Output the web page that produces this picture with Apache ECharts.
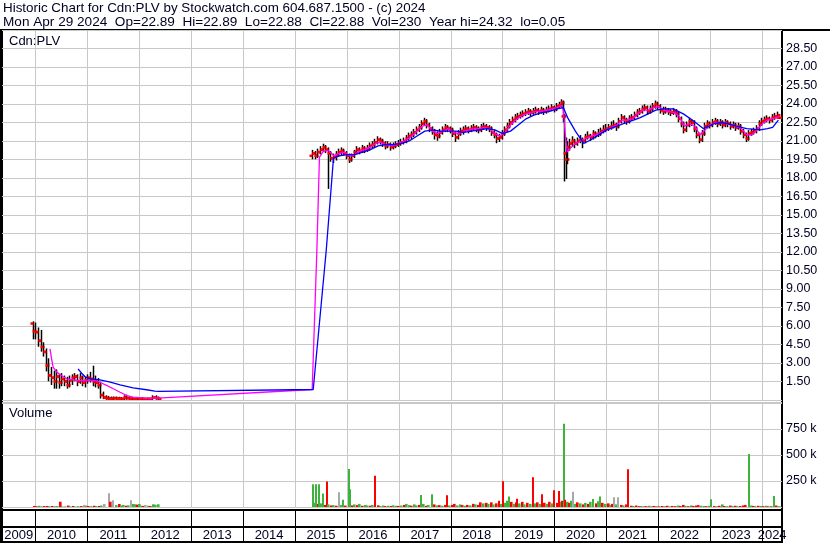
<!DOCTYPE html>
<html><head><meta charset="utf-8">
<script src="https://cdn.jsdelivr.net/npm/echarts@6/dist/echarts.min.js"></script>
<style>html,body{margin:0;padding:0;background:#fff}#c{width:830px;height:543px}</style>
</head><body><div id="c"></div>
<script>
// ---------- DATA ----------
const headerLine1 = 'Historic Chart for Cdn:PLV by Stockwatch.com 604.687.1500 - (c) 2024';
const headerLine2 = 'Mon Apr 29 2024  Op=22.89  Hi=22.89  Lo=22.88  Cl=22.88  Vol=230  Year hi=24.32  lo=0.05';
const symbolLabel = 'Cdn:PLV';
const volumeLabel = 'Volume';
const yearBounds = [2010,2011,2012,2013,2014,2015,2016,2017,2018,2019,2020,2021,2022,2023,2024];
const yearLabels = [2009,2010,2011,2012,2013,2014,2015,2016,2017,2018,2019,2020,2021,2022,2023,2024];
const priceTicks = [1.5,3,4.5,6,7.5,9,10.5,12,13.5,15,16.5,18,19.5,21,22.5,24,25.5,27,28.5];
const volumeTicks = [250,500,750];

// [decimal year, open, high, low, close]
const ohlc2010 = [
[2009.95,6.2,6.3,5.0,5.6],[2010.00,5.6,6.2,5.0,5.5],[2010.05,5.5,5.8,4.4,4.8],[2010.10,4.8,5.6,4.0,4.3],
[2010.15,4.3,4.6,3.6,3.9],[2010.20,3.9,4.1,2.4,2.8],[2010.25,2.8,3.3,1.6,2.0],[2010.30,2.0,2.6,1.3,1.8],
[2010.35,1.8,2.3,1.0,1.5],[2010.40,1.5,2.4,1.0,1.9],[2010.45,1.9,2.0,1.0,1.4],[2010.50,1.4,2.1,1.2,1.7],
[2010.55,1.7,1.9,1.2,1.5],[2010.60,1.5,1.8,1.0,1.2],[2010.65,1.2,1.9,1.1,1.6],[2010.70,1.6,2.0,1.3,1.8],
[2010.75,1.8,2.1,1.6,1.9],[2010.80,1.9,2.0,1.2,1.5],[2010.85,1.5,2.1,1.4,1.8],[2010.90,1.8,1.9,1.2,1.4],
[2010.95,1.4,1.8,1.1,1.6]];
const ohlc2011 = [
[2011.00,1.6,2.0,1.4,1.8],[2011.05,1.8,2.2,1.5,1.7],[2011.10,1.7,2.7,1.2,1.5],[2011.15,1.5,1.9,1.1,1.4],
[2011.20,1.4,1.7,1.0,1.2],[2011.25,1.2,1.4,0.2,0.4],[2011.30,0.4,0.6,0.15,0.2],[2011.35,0.2,0.3,0.1,0.15],
[2011.40,0.15,0.25,0.1,0.12],[2011.45,0.12,0.2,0.08,0.1],[2011.50,0.1,0.2,0.08,0.15],[2011.55,0.15,0.2,0.1,0.12],
[2011.60,0.12,0.18,0.08,0.1],[2011.65,0.1,0.15,0.06,0.08],[2011.70,0.08,0.3,0.06,0.2],[2011.75,0.2,0.35,0.1,0.15],
[2011.80,0.15,0.2,0.08,0.1],[2011.85,0.1,0.15,0.06,0.08],[2011.95,0.08,0.12,0.05,0.1]];
const ohlc2012 = [
[2012.05,0.1,0.15,0.06,0.08],[2012.15,0.08,0.12,0.05,0.1],[2012.25,0.1,0.3,0.08,0.2],[2012.32,0.2,0.3,0.1,0.15],
[2012.36,0.15,0.2,0.05,0.1]];
const ohlc2015 = [
[2015.33,19.8,20.2,19.6,20.0],[2015.38,20.0,20.1,19.6,19.8],[2015.43,19.8,20.3,19.7,20.1],[2015.48,20.1,20.5,20.0,20.3],
[2015.53,20.3,20.7,20.2,20.5],[2015.58,20.5,20.6,20.1,20.3],[2015.63,20.3,20.4,17.2,20.0],[2015.68,20.0,20.1,19.4,19.6],
[2015.73,19.6,19.9,19.3,19.7],[2015.78,19.7,20.1,19.5,19.9],[2015.83,19.9,20.3,19.8,20.1],[2015.88,20.1,20.4,19.9,20.2],
[2015.93,20.2,20.3,19.9,20.0],[2015.98,20.0,20.1,19.6,19.8]];
const ohlc2016 = [
[2016.03,19.8,19.9,19.3,19.5],[2016.08,19.5,19.9,19.4,19.8],[2016.13,19.8,20.2,19.7,20.1],[2016.18,20.1,20.5,20.0,20.3],
[2016.23,20.3,20.4,20.0,20.2],[2016.28,20.2,20.6,20.1,20.4],[2016.33,20.4,20.5,20.1,20.3],[2016.38,20.3,20.6,20.2,20.4],
[2016.43,20.4,20.8,20.3,20.6],[2016.48,20.6,20.9,20.5,20.7],[2016.53,20.7,21.1,20.6,20.9],[2016.58,20.9,21.3,20.8,21.1],
[2016.63,21.1,21.2,20.8,21.0],[2016.68,21.0,21.1,20.6,20.8],[2016.73,20.8,20.9,20.4,20.6],[2016.78,20.6,20.9,20.5,20.7],
[2016.83,20.7,20.8,20.3,20.5],[2016.88,20.5,20.8,20.4,20.6],[2016.93,20.6,20.9,20.5,20.7],[2016.98,20.7,21.0,20.6,20.8]];
const ohlc2017 = [
[2017.03,20.8,21.1,20.7,20.9],[2017.08,20.9,21.2,20.8,21.0],[2017.13,21.0,21.4,20.9,21.2],[2017.18,21.2,21.6,21.1,21.4],
[2017.23,21.4,21.7,21.2,21.5],[2017.28,21.5,21.9,21.4,21.7],[2017.33,21.7,22.1,21.6,21.9],[2017.38,21.9,22.3,21.8,22.1],
[2017.43,22.1,22.6,22.0,22.4],[2017.48,22.4,22.8,22.3,22.6],[2017.53,22.6,22.7,22.1,22.3],[2017.58,22.3,22.4,21.8,22.0],
[2017.63,22.0,22.1,21.6,21.8],[2017.68,21.8,21.9,21.2,21.5],[2017.73,21.5,21.7,21.1,21.4],[2017.78,21.4,21.9,21.3,21.7],
[2017.83,21.7,22.1,21.6,21.9],[2017.88,21.9,22.3,21.8,22.1],[2017.93,22.1,22.2,21.8,22.0],[2017.98,22.0,22.1,21.7,21.9]];
const ohlc2018 = [
[2018.03,21.9,22.0,21.4,21.6],[2018.08,21.6,21.7,21.0,21.3],[2018.13,21.3,21.8,21.2,21.6],[2018.18,21.6,22.0,21.5,21.8],
[2018.23,21.8,22.1,21.6,21.9],[2018.28,21.9,22.2,21.8,22.0],[2018.33,22.0,22.1,21.7,21.9],[2018.38,21.9,22.2,21.8,22.0],
[2018.43,22.0,22.3,21.9,22.1],[2018.48,22.1,22.2,21.8,22.0],[2018.53,22.0,22.1,21.7,21.9],[2018.58,21.9,22.3,21.8,22.1],
[2018.63,22.1,22.4,22.0,22.2],[2018.68,22.2,22.3,21.9,22.1],[2018.73,22.1,22.2,21.8,22.0],[2018.78,22.0,22.1,21.5,21.7],
[2018.83,21.7,21.8,21.3,21.5],[2018.88,21.5,21.6,20.9,21.2],[2018.93,21.2,21.5,21.0,21.3],[2018.98,21.3,21.8,21.2,21.6]];
const ohlc2019 = [
[2019.03,21.6,22.1,21.5,21.9],[2019.08,21.9,22.4,21.8,22.2],[2019.13,22.2,22.7,22.1,22.5],[2019.18,22.5,22.9,22.4,22.7],
[2019.23,22.7,23.1,22.6,22.9],[2019.28,22.9,23.2,22.8,23.0],[2019.33,23.0,23.3,22.9,23.1],[2019.38,23.1,23.4,23.0,23.2],
[2019.43,23.2,23.5,23.1,23.3],[2019.48,23.3,23.6,23.2,23.4],[2019.53,23.4,23.5,23.1,23.3],[2019.58,23.3,23.6,23.2,23.4],
[2019.63,23.4,23.7,23.3,23.5],[2019.68,23.5,23.6,23.2,23.4],[2019.73,23.4,23.7,23.3,23.5],[2019.78,23.5,23.6,23.2,23.4],
[2019.83,23.4,23.7,23.3,23.5],[2019.88,23.5,23.8,23.4,23.6],[2019.93,23.6,23.9,23.5,23.7],[2019.98,23.7,23.8,23.4,23.6]];
const ohlc2020 = [
[2020.03,23.6,24.0,23.5,23.8],[2020.08,23.8,24.1,23.7,23.9],[2020.13,23.9,24.3,23.8,24.1],[2020.16,24.1,24.2,22.6,23.0],
[2020.18,23.0,23.1,17.8,20.0],[2020.21,20.0,21.2,18.0,19.5],[2020.24,19.5,20.9,19.2,20.5],[2020.28,20.5,21.1,20.3,20.8],
[2020.33,20.8,21.3,20.6,21.0],[2020.38,21.0,21.1,20.5,20.8],[2020.43,20.8,21.2,20.7,21.0],[2020.48,21.0,21.4,20.9,21.1],
[2020.53,21.1,21.2,20.5,21.0],[2020.58,21.0,21.5,20.9,21.3],[2020.63,21.3,21.7,21.2,21.4],[2020.68,21.4,21.5,21.1,21.3],
[2020.73,21.3,21.8,21.2,21.6],[2020.78,21.6,21.7,21.3,21.5],[2020.83,21.5,21.9,21.4,21.6],[2020.88,21.6,22.0,21.5,21.8],
[2020.93,21.8,22.2,21.7,21.9],[2020.98,21.9,22.3,21.8,22.0]];
const ohlc2021 = [
[2021.03,22.0,22.3,21.9,22.1],[2021.08,22.1,22.5,22.0,22.2],[2021.13,22.2,22.6,22.1,22.3],[2021.18,22.3,22.4,21.9,22.2],
[2021.23,22.2,22.8,22.1,22.6],[2021.28,22.6,23.1,22.5,22.9],[2021.33,22.9,23.0,22.5,22.7],[2021.38,22.7,22.8,22.4,22.6],
[2021.43,22.6,23.0,22.5,22.8],[2021.48,22.8,23.1,22.7,22.9],[2021.53,22.9,23.3,22.8,23.1],[2021.58,23.1,23.5,23.0,23.3],
[2021.63,23.3,23.6,23.2,23.4],[2021.68,23.4,23.8,23.3,23.6],[2021.73,23.6,23.9,23.5,23.7],[2021.78,23.7,23.8,23.2,23.4],
[2021.83,23.4,23.8,23.3,23.6],[2021.88,23.6,24.0,23.5,23.8],[2021.93,23.8,24.2,23.7,24.0],[2021.98,24.0,24.1,23.6,23.8]];
const ohlc2022 = [
[2022.03,23.8,23.9,23.3,23.5],[2022.08,23.5,23.7,23.2,23.4],[2022.13,23.4,23.7,23.3,23.5],[2022.18,23.5,23.6,23.2,23.4],
[2022.23,23.4,23.5,23.1,23.3],[2022.28,23.3,23.6,23.2,23.4],[2022.33,23.4,23.5,23.0,23.2],[2022.38,23.2,23.3,22.6,22.8],
[2022.43,22.8,22.9,22.2,22.4],[2022.48,22.4,22.5,21.7,21.9],[2022.53,21.9,22.5,21.8,22.3],[2022.58,22.3,22.8,22.2,22.6],
[2022.63,22.6,22.7,22.3,22.5],[2022.68,22.5,22.6,21.8,22.0],[2022.73,22.0,22.1,21.3,21.5],[2022.78,21.5,21.6,20.9,21.1],
[2022.83,21.1,21.8,21.0,21.6],[2022.88,21.6,22.4,21.5,22.2],[2022.93,22.2,22.6,22.1,22.4],[2022.98,22.4,22.5,22.1,22.3]];
const ohlc2023 = [
[2023.03,22.3,22.7,22.2,22.5],[2023.08,22.5,22.8,22.4,22.6],[2023.13,22.6,22.7,22.2,22.4],[2023.18,22.4,22.7,22.3,22.5],
[2023.23,22.5,22.6,22.1,22.3],[2023.28,22.3,22.7,22.2,22.5],[2023.33,22.5,22.6,22.2,22.4],[2023.38,22.4,22.5,22.0,22.2],
[2023.43,22.2,22.5,22.1,22.3],[2023.48,22.3,22.4,21.9,22.1],[2023.53,22.1,22.4,22.0,22.2],[2023.58,22.2,22.3,21.6,21.8],
[2023.63,21.8,21.9,21.3,21.5],[2023.68,21.5,21.6,21.0,21.2],[2023.73,21.2,21.8,21.1,21.6],[2023.78,21.6,21.9,21.5,21.7],
[2023.83,21.7,22.0,21.6,21.8],[2023.88,21.8,22.2,21.7,22.0],[2023.93,22.0,22.6,21.9,22.4],[2023.98,22.4,22.8,22.3,22.6]];
const ohlc2024 = [
[2024.03,22.6,22.9,22.5,22.7],[2024.08,22.7,23.0,22.6,22.8],[2024.13,22.8,22.9,22.5,22.7],[2024.18,22.7,23.1,22.6,22.9],
[2024.23,22.9,23.2,22.8,23.0],[2024.28,23.0,23.3,22.9,23.1],[2024.33,22.89,22.89,22.88,22.88]];

// moving averages [decimal year, value]
const maShort = [
[2010.28,4.15],[2010.31,3.34],[2010.34,2.66],[2010.41,2.26],[2010.5,1.99],[2010.6,1.72],[2010.79,1.58],[2010.99,1.58],
[2011.18,1.58],[2011.24,1.44],[2011.37,1.18],[2011.5,0.91],[2011.63,0.63],[2011.76,0.36],[2011.88,0.23],[2012.14,0.15],
[2012.36,0.15],[2015.33,0.85],[2015.42,12.1],[2015.47,19.7],[2015.55,20.2],[2015.65,20.2],[2015.75,19.8],[2015.85,20.0],
[2015.95,20.1],[2016.05,19.8],[2016.15,19.9],[2016.25,20.2],[2016.35,20.3],[2016.45,20.5],[2016.55,20.8],[2016.65,20.9],
[2016.75,20.7],[2016.85,20.6],[2016.95,20.7],[2017.05,20.9],[2017.15,21.1],[2017.25,21.4],[2017.35,21.8],[2017.45,22.2],
[2017.55,22.3],[2017.65,21.8],[2017.75,21.6],[2017.85,21.8],[2017.95,22.0],[2018.05,21.7],[2018.15,21.6],[2018.25,21.8],
[2018.35,21.9],[2018.45,22.0],[2018.55,22.0],[2018.65,22.1],[2018.75,22.0],[2018.85,21.6],[2018.95,21.4],[2019.05,21.7],
[2019.15,22.3],[2019.25,22.7],[2019.35,23.0],[2019.45,23.2],[2019.55,23.3],[2019.65,23.4],[2019.75,23.4],[2019.85,23.5],
[2019.95,23.6],[2020.05,23.7],[2020.13,23.9],[2020.17,23.5],[2020.2,21.8],[2020.24,20.1],[2020.3,20.4],[2020.4,20.8],
[2020.5,21.0],[2020.6,21.2],[2020.7,21.4],[2020.8,21.5],[2020.9,21.7],[2021.0,21.9],[2021.1,22.1],[2021.2,22.3],
[2021.3,22.7],[2021.4,22.7],[2021.5,22.8],[2021.6,23.2],[2021.7,23.5],[2021.8,23.5],[2021.9,23.7],[2022.0,23.8],
[2022.1,23.5],[2022.2,23.4],[2022.3,23.3],[2022.4,23.0],[2022.5,22.2],[2022.6,22.4],[2022.7,22.2],[2022.8,21.5],
[2022.9,21.9],[2023.0,22.3],[2023.1,22.5],[2023.2,22.5],[2023.3,22.4],[2023.4,22.3],[2023.5,22.2],[2023.6,22.0],
[2023.7,21.5],[2023.8,21.5],[2023.9,21.9],[2024.0,22.4],[2024.1,22.7],[2024.2,22.8],[2024.33,23.0]];
const maLong = [
[2010.82,2.53],[2010.89,2.17],[2010.95,1.9],[2011.05,1.72],[2011.24,1.64],[2011.44,1.45],[2011.63,1.23],[2011.88,0.99],
[2012.14,0.83],[2012.3,0.72],[2012.36,0.7],[2015.35,0.85],[2015.6,12.1],[2015.74,19.6],[2015.85,19.8],[2016.0,19.9],
[2016.15,19.9],[2016.3,20.1],[2016.45,20.3],[2016.6,20.6],[2016.75,20.7],[2016.9,20.7],[2017.05,20.8],[2017.2,21.0],
[2017.35,21.4],[2017.5,21.8],[2017.65,21.9],[2017.8,21.8],[2017.95,21.8],[2018.1,21.8],[2018.25,21.7],[2018.4,21.8],
[2018.55,21.9],[2018.7,22.0],[2018.85,21.9],[2019.0,21.6],[2019.15,21.8],[2019.3,22.3],[2019.45,22.8],[2019.6,23.1],
[2019.75,23.3],[2019.9,23.4],[2020.05,23.6],[2020.17,23.7],[2020.25,22.9],[2020.4,21.8],[2020.56,20.8],[2020.7,21.1],
[2020.85,21.5],[2021.0,21.9],[2021.2,22.2],[2021.39,22.5],[2021.52,22.7],[2021.65,22.9],[2021.8,23.2],[2021.95,23.5],
[2022.1,23.6],[2022.28,23.6],[2022.48,23.2],[2022.65,22.7],[2022.87,22.0],[2023.07,22.4],[2023.2,22.5],[2023.33,22.4],
[2023.5,22.2],[2023.7,22.0],[2023.96,21.9],[2024.1,22.0],[2024.2,22.1],[2024.31,22.7]];

// volume [decimal year, thousands of shares, direction 1 up / -1 down / 0 unchanged]
const vol2010 = [
[2009.95,10,-1],[2010.0,8,-1],[2010.05,12,1],[2010.1,6,1],[2010.15,9,-1],[2010.2,10,-1],[2010.25,8,1],[2010.3,10,-1],
[2010.35,7,1],[2010.4,9,1],[2010.46,51,-1],[2010.5,6,1],[2010.55,8,0],[2010.6,14,-1],[2010.65,6,1],[2010.7,10,-1],
[2010.75,8,0],[2010.8,8,1],[2010.85,9,-1],[2010.92,20,0],[2010.96,12,1]];
const vol2011 = [
[2011.0,10,-1],[2011.05,8,1],[2011.1,12,-1],[2011.15,9,1],[2011.2,10,-1],[2011.25,14,1],[2011.30,29,0],[2011.39,132,0],
[2011.41,51,-1],[2011.45,14,1],[2011.48,64,0],[2011.53,18,1],[2011.58,29,-1],[2011.62,14,1],[2011.66,20,1],[2011.72,12,-1],
[2011.76,16,1],[2011.82,64,0],[2011.86,29,1],[2011.9,26,1],[2011.94,22,-1],[2011.97,29,1]];
const vol2012 = [
[2012.02,12,1],[2012.06,10,-1],[2012.09,20,0],[2012.14,12,1],[2012.19,10,-1],[2012.24,26,1],[2012.28,22,1],[2012.34,26,1]];
const vol2015 = [
[2015.33,218,1],[2015.36,40,1],[2015.39,218,1],[2015.42,30,-1],[2015.45,218,1],[2015.48,35,1],[2015.51,130,1],
[2015.55,20,-1],[2015.59,246,-1],[2015.62,25,1],[2015.67,15,-1],[2015.72,18,1],[2015.77,12,-1],[2015.82,143,0],
[2015.86,20,1],[2015.90,70,1],[2015.95,14,-1]];
const vol2016 = [
[2016.02,365,1],[2016.04,170,1],[2016.08,15,-1],[2016.12,25,1],[2016.17,18,-1],[2016.22,30,1],[2016.27,12,-1],
[2016.32,20,1],[2016.37,14,1],[2016.42,12,-1],[2016.47,20,1],[2016.52,300,-1],[2016.57,16,-1],[2016.62,10,1],
[2016.67,14,1],[2016.72,8,-1],[2016.77,12,1],[2016.82,10,-1],[2016.87,16,1],[2016.92,12,1],[2016.97,10,-1]];
const vol2017 = [
[2017.02,14,1],[2017.07,20,-1],[2017.12,30,1],[2017.17,18,1],[2017.22,12,-1],[2017.27,25,1],[2017.32,15,1],
[2017.36,20,-1],[2017.40,115,1],[2017.45,30,1],[2017.5,12,-1],[2017.55,20,1],[2017.61,122,1],[2017.66,25,-1],
[2017.71,15,1],[2017.76,18,-1],[2017.81,12,1],[2017.86,20,-1],[2017.90,112,-1],[2017.95,15,1]];
const vol2018 = [
[2018.0,20,-1],[2018.05,30,-1],[2018.1,15,1],[2018.15,25,1],[2018.2,18,-1],[2018.25,12,1],[2018.3,20,-1],
[2018.35,15,1],[2018.4,30,-1],[2018.45,25,1],[2018.5,20,-1],[2018.55,45,-1],[2018.6,35,1],[2018.65,40,-1],
[2018.7,30,1],[2018.75,45,-1],[2018.8,25,1],[2018.85,35,-1],[2018.9,60,-1],[2018.95,30,1],[2018.99,247,-1]];
const vol2019 = [
[2019.03,40,1],[2019.07,60,1],[2019.11,100,1],[2019.15,50,-1],[2019.19,30,1],[2019.23,45,-1],[2019.26,80,-1],
[2019.3,35,1],[2019.35,50,-1],[2019.4,25,1],[2019.45,40,-1],[2019.5,30,1],[2019.56,285,-1],[2019.6,35,1],
[2019.65,45,-1],[2019.69,30,1],[2019.73,122,-1],[2019.78,40,-1],[2019.83,30,1],[2019.88,50,-1],[2019.93,35,1],
[2019.97,160,-1]];
const vol2020 = [
[2020.02,40,-1],[2020.06,154,-1],[2020.1,50,1],[2020.13,60,-1],[2020.16,800,1],[2020.19,70,-1],[2020.22,50,1],
[2020.26,40,-1],[2020.3,60,1],[2020.33,147,0],[2020.37,30,1],[2020.42,45,-1],[2020.47,35,1],[2020.52,25,-1],
[2020.57,40,1],[2020.62,30,-1],[2020.67,50,1],[2020.72,77,1],[2020.77,35,-1],[2020.81,55,1],[2020.85,100,1],
[2020.9,40,-1],[2020.95,30,1]];
const vol2021 = [
[2021.0,35,-1],[2021.05,20,1],[2021.09,30,-1],[2021.13,93,0],[2021.17,25,1],[2021.20,93,0],[2021.25,20,-1],
[2021.3,15,1],[2021.35,25,-1],[2021.40,362,-1],[2021.45,12,-1],[2021.5,10,1],[2021.55,14,-1],[2021.6,8,-1],
[2021.65,10,1],[2021.7,6,-1],[2021.75,8,-1],[2021.8,12,1],[2021.85,6,-1],[2021.9,10,-1],[2021.95,8,1]];
const vol2022 = [
[2022.0,6,-1],[2022.05,10,-1],[2022.1,8,1],[2022.15,12,-1],[2022.2,6,1],[2022.25,10,-1],[2022.3,8,-1],
[2022.35,14,1],[2022.4,10,-1],[2022.45,20,-1],[2022.5,12,1],[2022.55,8,-1],[2022.6,15,1],[2022.65,10,-1],
[2022.7,14,-1],[2022.75,18,-1],[2022.8,12,1],[2022.85,10,1],[2022.9,8,-1],[2022.95,12,1]];
const vol2023 = [
[2023.0,74,1],[2023.05,10,-1],[2023.1,8,1],[2023.15,12,-1],[2023.2,25,1],[2023.25,10,-1],[2023.3,8,1],
[2023.35,14,-1],[2023.4,10,1],[2023.45,12,-1],[2023.5,8,1],[2023.55,10,-1],[2023.6,15,-1],[2023.65,20,-1],
[2023.72,510,1],[2023.76,14,1],[2023.8,10,-1],[2023.85,8,1],[2023.9,12,-1],[2023.95,10,1]];
const vol2024 = [
[2024.0,8,-1],[2024.05,12,1],[2024.1,6,-1],[2024.15,10,1],[2024.21,106,1],[2024.25,14,-1],[2024.3,8,1],[2024.33,2,0]];

// ---------- CHART ----------
const X_MIN = 2009.355, X_MAX = 2024.38;
const FONT = '"Liberation Sans", Arial, sans-serif';
const TXT = '#000022';
const GRIDC = '#c8c8c8';
const RED = '#ff0000', GREEN = '#3cb43c', GRAY = '#a8a8a8';

const ohlcAll = [].concat(ohlc2010, ohlc2011, ohlc2012, ohlc2015, ohlc2016, ohlc2017, ohlc2018,
  ohlc2019, ohlc2020, ohlc2021, ohlc2022, ohlc2023, ohlc2024);
const volAll = [].concat(vol2010, vol2011, vol2012, vol2015, vol2016, vol2017, vol2018,
  vol2019, vol2020, vol2021, vol2022, vol2023, vol2024);
const yearLabelPos = yearLabels.map(y => (Math.max(y, X_MIN) + Math.min(y + 1, X_MAX)) / 2);

function xAx(gi, extra) {
  return Object.assign({
    type: 'value', gridIndex: gi, min: X_MIN, max: X_MAX,
    axisLine: {show: false}, axisTick: {show: false, customValues: yearBounds},
    axisLabel: {show: false},
    splitLine: {show: true, lineStyle: {color: GRIDC, width: 1}}
  }, extra || {});
}
function yHidden(gi) {
  return {type: 'value', gridIndex: gi, min: 0, max: 1, axisLine: {show: false}, axisTick: {show: false},
    axisLabel: {show: false}, splitLine: {show: false}};
}

const chart = echarts.init(document.getElementById('c'), null, {renderer: 'canvas'});
chart.setOption({
  animation: false,
  backgroundColor: '#fff',
  textStyle: {fontFamily: FONT},
  title: [
    {text: headerLine1, left: 3, top: 0.5, padding: 0,
      textStyle: {fontFamily: FONT, fontSize: 13.4, fontWeight: 'normal', color: TXT, lineHeight: 15}},
    {text: headerLine2, left: 3, top: 15, padding: 0,
      textStyle: {fontFamily: FONT, fontSize: 13.6, fontWeight: 'normal', color: TXT, lineHeight: 15}},
    {text: symbolLabel, left: 9, top: 34, padding: 0,
      textStyle: {fontFamily: FONT, fontSize: 13, fontWeight: 'normal', color: TXT, lineHeight: 15}},
    {text: volumeLabel, left: 9, top: 406, padding: 0,
      textStyle: {fontFamily: FONT, fontSize: 13, fontWeight: 'normal', color: TXT, lineHeight: 15}}
  ],
  grid: [
    {left: 2, right: 48, top: 30, height: 370},
    {left: 2, right: 48, top: 402, height: 105},
    {left: 2, right: 48, top: 510, height: 17},
    {left: 2, right: 48, top: 527, height: 15}
  ],
  xAxis: [
    xAx(0), xAx(1),
    xAx(2, {splitLine: {show: true, lineStyle: {color: '#000', width: 1}}}),
    xAx(3, {splitLine: {show: true, lineStyle: {color: '#000', width: 1}},
      axisLabel: {show: true, inside: true, margin: 0, customValues: yearLabelPos,
        formatter: v => String(Math.floor(v)), fontFamily: FONT, fontSize: 13, color: TXT}})
  ],
  yAxis: [
    {type: 'value', gridIndex: 0, position: 'right', min: 0, max: 30, interval: 1.5,
      axisLine: {show: false}, axisTick: {show: false},
      axisLabel: {margin: 4, fontFamily: FONT, fontSize: 12.5, color: TXT,
        formatter: v => priceTicks.indexOf(+v.toFixed(2)) >= 0 ? v.toFixed(2) : ''},
      splitLine: {show: true, lineStyle: {color: GRIDC, width: 1}}},
    {type: 'value', gridIndex: 1, position: 'right', min: 0, max: 1010, interval: 250,
      axisLine: {show: false}, axisTick: {show: false},
      axisLabel: {margin: 4, fontFamily: FONT, fontSize: 12.5, color: TXT,
        formatter: v => volumeTicks.indexOf(v) >= 0 ? v + ' k' : ''},
      splitLine: {show: true, lineStyle: {color: GRIDC, width: 1}}},
    yHidden(2), yHidden(3)
  ],
  series: [
    {type: 'custom', xAxisIndex: 0, yAxisIndex: 0, clip: true, data: ohlcAll,
      encode: {x: 0, y: [1, 2, 3, 4]},
      renderItem: function (params, api) {
        const t = api.value(0);
        const o = api.coord([t, api.value(1)]);
        const h = api.coord([t, api.value(2)]);
        const l = api.coord([t, api.value(3)]);
        const c = api.coord([t, api.value(4)]);
        const x = Math.round(h[0]) + 0.5;
        return {type: 'group', children: [
          {type: 'line', shape: {x1: x, y1: h[1] - 1, x2: x, y2: l[1] + 1}, style: {stroke: '#000', lineWidth: 1.5}},
          {type: 'line', shape: {x1: x - 3, y1: o[1], x2: x, y2: o[1]}, style: {stroke: RED, lineWidth: 2.5}},
          {type: 'line', shape: {x1: x, y1: c[1], x2: x + 3, y2: c[1]}, style: {stroke: RED, lineWidth: 2.5}}
        ]};
      }},
    {type: 'line', xAxisIndex: 0, yAxisIndex: 0, data: maShort, showSymbol: false, symbol: 'none',
      lineStyle: {color: '#ff00ff', width: 1.3}, z: 3},
    {type: 'line', xAxisIndex: 0, yAxisIndex: 0, data: maLong, showSymbol: false, symbol: 'none',
      lineStyle: {color: '#0000ff', width: 1.3}, z: 4},
    {type: 'custom', xAxisIndex: 1, yAxisIndex: 1, clip: true, data: volAll,
      encode: {x: 0, y: 1},
      renderItem: function (params, api) {
        const t = api.value(0);
        const v = api.value(1);
        const top = api.coord([t, v]);
        const base = api.coord([t, 0]);
        const d = api.value(2);
        const w = v < 60 ? 2.6 : 2;
        return {type: 'rect', shape: {x: Math.round(top[0]), y: top[1], width: w, height: base[1] - top[1]},
          style: {fill: d > 0 ? GREEN : (d < 0 ? RED : GRAY)}};
      }}
  ],
  graphic: [
    {type: 'rect', shape: {x: 0, y: 29, width: 830, height: 2}, style: {fill: '#000'}, silent: true},
    {type: 'rect', shape: {x: 0, y: 29, width: 3, height: 514}, style: {fill: '#000'}, silent: true},
    {type: 'rect', shape: {x: 781, y: 29, width: 2, height: 514}, style: {fill: '#000'}, silent: true},
    {type: 'rect', shape: {x: 0, y: 400, width: 782, height: 1}, style: {fill: '#000'}, silent: true},
    {type: 'rect', shape: {x: 0, y: 402, width: 782, height: 1}, style: {fill: '#000'}, silent: true},
    {type: 'rect', shape: {x: 0, y: 509, width: 782, height: 2}, style: {fill: '#000'}, silent: true},
    {type: 'rect', shape: {x: 0, y: 526, width: 782, height: 2}, style: {fill: '#000'}, silent: true},
    {type: 'rect', shape: {x: 0, y: 541, width: 783, height: 2}, style: {fill: '#000'}, silent: true}
  ]
});
</script></body></html>
